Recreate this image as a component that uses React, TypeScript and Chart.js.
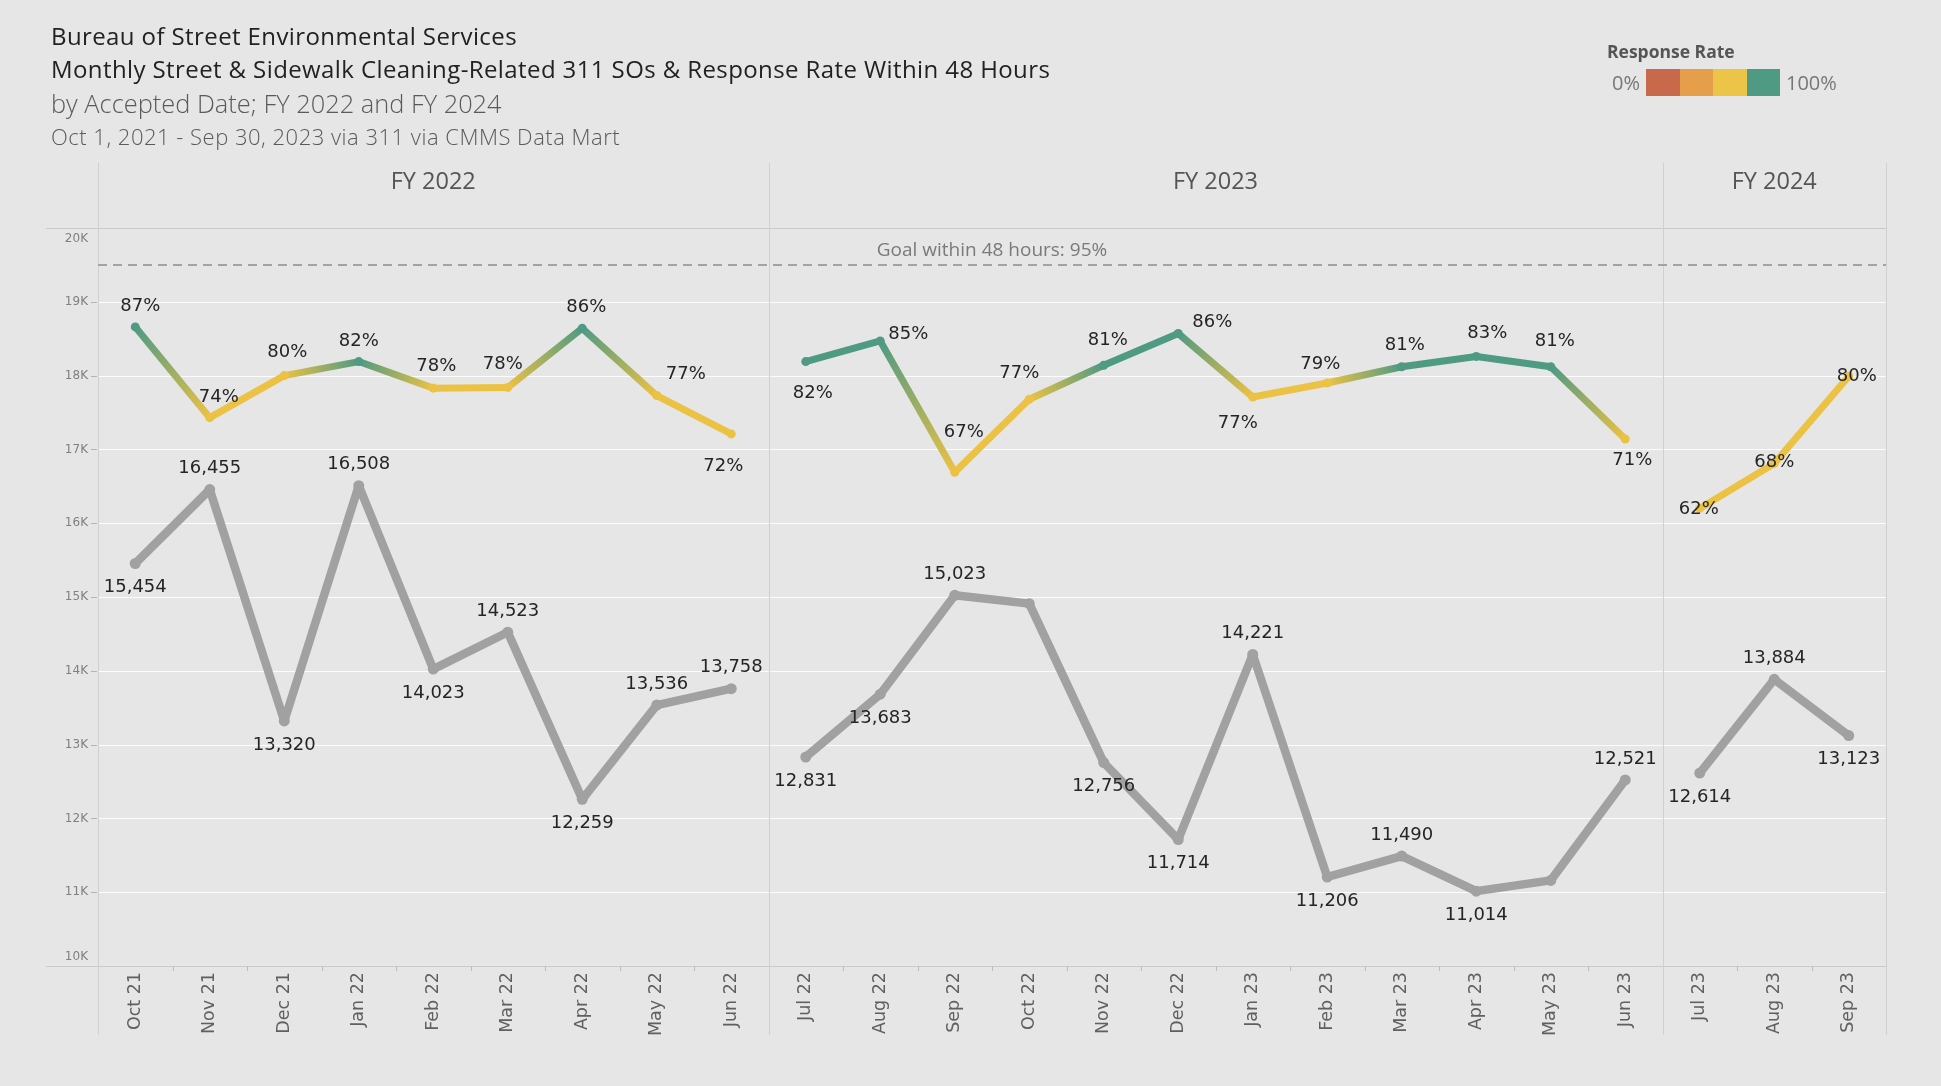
import React, { useEffect, useRef } from "react";
import { Chart, registerables } from "chart.js";

Chart.register(...registerables);

// ---------------- DATA ----------------
const MONTHS = [
  "Oct 21", "Nov 21", "Dec 21", "Jan 22", "Feb 22", "Mar 22", "Apr 22", "May 22", "Jun 22",
  "Jul 22", "Aug 22", "Sep 22", "Oct 22", "Nov 22", "Dec 22", "Jan 23", "Feb 23", "Mar 23", "Apr 23", "May 23", "Jun 23",
  "Jul 23", "Aug 23", "Sep 23",
];
const PANELS = ["FY 2022", "FY 2023", "FY 2024"];
const PANEL_SIZES = [9, 12, 3];

// Monthly Street & Sidewalk Cleaning-Related 311 SOs
const COUNTS = [
  15454, 16455, 13320, 16508, 14023, 14523, 12259, 13536, 13758,
  12831, 13683, 15023, 14910, 12756, 11714, 14221, 11206, 11490, 11014, 11160, 12521,
  12614, 13884, 13123,
];
// Which counts carry a data label
const COUNT_LABELED = [
  true, true, true, true, true, true, true, true, true,
  true, true, true, false, true, true, true, true, true, true, false, true,
  true, true, true,
];
// Response rate within 48 hours (%)
const RATES = [
  86.6, 74.3, 80.0, 81.9, 78.3, 78.4, 86.4, 77.3, 72.1,
  81.9, 84.7, 66.9, 76.8, 81.4, 85.7, 77.1, 79.0, 81.2, 82.6, 81.2, 71.4,
  62.0, 68.1, 79.9,
];
const GOAL_RATE = 95;
const Y_TICKS = [10000, 11000, 12000, 13000, 14000, 15000, 16000, 17000, 18000, 19000, 20000];

// ---------------- STYLE ----------------
const BG = "#e6e6e6";
const GRAY_LINE = "#a1a1a1";
const TEAL = "#4f9a83";
const YELLOW = "#ebc244";
const LEGEND_COLORS = ["#c9694b", "#e59f4b", "#ecc447", "#4f9a83"];
const LABEL_FONT = '18px "DejaVu Sans"';
const TITLE_FONT = '"Open Sans", sans-serif';

// label placement (style): counts above (a) or below (b)
const COUNT_POS = [
  "b", "a", "b", "a", "b", "a", "b", "a", "a",
  "b", "b", "a", "-", "b", "b", "a", "b", "a", "b", "-", "a",
  "b", "a", "b",
];
// rate label offsets (style) [dx, dy]
const RATE_OFF: [number, number][] = [
  [5, -21], [9, -20], [3, -23], [0, -20], [3, -22], [-5, -23], [4, -21], [29, -21], [-8, 32],
  [7, 32], [28, -7], [9, -40], [-10, -26], [4, -25], [34, -11], [-15, 26], [-7, -19], [3, -21], [11, -23], [4, -25], [7, 21],
  [-1, 1], [0, -1], [8, 0],
];

const rateColor = (r: number) => (r >= 80.5 ? TEAL : YELLOW);

function panelRanges() {
  const out: [number, number][] = [];
  let s = 0;
  for (const n of PANEL_SIZES) {
    out.push([s, s + n - 1]);
    s += n;
  }
  return out;
}

function maskTo(arr: number[], a: number, b: number) {
  return arr.map((v, i) => (i >= a && i <= b ? v : null));
}

export default function App() {
  const canvasRef = useRef<HTMLCanvasElement | null>(null);

  useEffect(() => {
    document.body.style.margin = "0";
    document.body.style.background = BG;
    const canvas = canvasRef.current!;
    const g = canvas.getContext("2d")!;
    const ranges = panelRanges();

    const datasets: any[] = [];
    ranges.forEach(([a, b]) => {
      datasets.push({
        data: maskTo(COUNTS, a, b),
        yAxisID: "y",
        borderColor: GRAY_LINE,
        backgroundColor: GRAY_LINE,
        borderWidth: 8.5,
        pointRadius: 5.5,
        pointBorderWidth: 0,
        pointBackgroundColor: GRAY_LINE,
        borderJoinStyle: "round",
        borderCapStyle: "round",
        tension: 0,
      });
    });
    ranges.forEach(([a, b]) => {
      datasets.push({
        data: maskTo(RATES, a, b),
        yAxisID: "y2",
        borderColor: TEAL,
        borderWidth: 7,
        pointRadius: 4.5,
        pointBorderWidth: 0,
        pointBackgroundColor: (c: any) => rateColor(RATES[c.dataIndex]),
        borderJoinStyle: "round",
        borderCapStyle: "round",
        tension: 0,
        segment: {
          borderColor: (c: any) => {
            const c0 = rateColor(RATES[c.p0DataIndex]);
            const c1 = rateColor(RATES[c.p1DataIndex]);
            if (c0 === c1) return c0;
            const gr = g.createLinearGradient(c.p0.x, c.p0.y, c.p1.x, c.p1.y);
            gr.addColorStop(0, c0);
            gr.addColorStop(1, c1);
            return gr;
          },
        },
      });
    });

    const framePlugin = {
      id: "frame",
      beforeDatasetsDraw(chart: any) {
        const ctx = chart.ctx;
        const area = chart.chartArea;
        const xs = chart.scales.x;
        const ys = chart.scales.y;
        const y2 = chart.scales.y2;
        const half = (xs.getPixelForValue(1) - xs.getPixelForValue(0)) / 2;
        ctx.save();
        // gridlines
        ctx.strokeStyle = "rgba(255,255,255,0.85)";
        ctx.lineWidth = 1.2;
        Y_TICKS.slice(1, -1).forEach((v) => {
          const y = Math.round(ys.getPixelForValue(v)) + 0.5;
          ctx.beginPath();
          ctx.moveTo(area.left, y);
          ctx.lineTo(area.right, y);
          ctx.stroke();
        });
        // top & bottom borders
        ctx.strokeStyle = "#cacaca";
        ctx.lineWidth = 1;
        [area.top, area.bottom].forEach((yy: number) => {
          const y = Math.round(yy) + 0.5;
          ctx.beginPath();
          ctx.moveTo(46, y);
          ctx.lineTo(area.right, y);
          ctx.stroke();
        });
        // panel dividers
        const bounds: number[] = [area.left];
        ranges.forEach(([, b]) => bounds.push(xs.getPixelForValue(b) + half));
        ctx.strokeStyle = "#d0d0d0";
        bounds.forEach((bx) => {
          const x = Math.round(bx) + 0.5;
          ctx.beginPath();
          ctx.moveTo(x, 163);
          ctx.lineTo(x, 1035);
          ctx.stroke();
        });
        // panel headers
        ctx.fillStyle = "#555";
        ctx.font = `23.5px ${TITLE_FONT}`;
        ctx.textAlign = "center";
        ctx.textBaseline = "middle";
        PANELS.forEach((p, i) => {
          ctx.fillText(p, (bounds[i] + bounds[i + 1]) / 2, 182);
        });
        // y axis labels and ticks
        ctx.font = '12px "DejaVu Sans"';
        ctx.fillStyle = "#808080";
        ctx.textAlign = "right";
        ctx.strokeStyle = "#b5b5b5";
        Y_TICKS.forEach((v, i) => {
          let y = ys.getPixelForValue(v);
          const lab = `${v / 1000}K`;
          if (i === 0) {
            ctx.fillText(lab, 88, y - 9);
          } else if (i === Y_TICKS.length - 1) {
            ctx.fillText(lab, 88, y + 11);
          } else {
            ctx.fillText(lab, 88, y);
            const yy = Math.round(y) + 0.5;
            ctx.beginPath();
            ctx.moveTo(91, yy);
            ctx.lineTo(97, yy);
            ctx.stroke();
          }
        });
        // x ticks
        ctx.strokeStyle = "#bdbdbd";
        for (let i = 0; i < MONTHS.length - 1; i++) {
          const bx = xs.getPixelForValue(i) + half;
          if (bounds.some((b) => Math.abs(b - bx) < 1)) continue;
          const x = Math.round(bx) + 0.5;
          ctx.beginPath();
          ctx.moveTo(x, area.bottom);
          ctx.lineTo(x, area.bottom + 5);
          ctx.stroke();
        }
        // x labels
        ctx.font = '17.5px "DejaVu Sans"';
        ctx.fillStyle = "#606060";
        ctx.textAlign = "right";
        ctx.textBaseline = "middle";
        MONTHS.forEach((m, i) => {
          const x = xs.getPixelForValue(i);
          ctx.save();
          ctx.translate(x, area.bottom + 6);
          ctx.rotate(-Math.PI / 2);
          ctx.fillText(m, 0, 0);
          ctx.restore();
        });
        // goal line
        const gy = y2.getPixelForValue(GOAL_RATE);
        ctx.strokeStyle = "#a3a3a3";
        ctx.lineWidth = 2;
        ctx.setLineDash([9, 6]);
        ctx.beginPath();
        ctx.moveTo(area.left, gy);
        ctx.lineTo(area.right, gy);
        ctx.stroke();
        ctx.setLineDash([]);
        ctx.font = `19px ${TITLE_FONT}`;
        ctx.fillStyle = "#7a7a7a";
        ctx.textAlign = "center";
        ctx.fillText(`Goal within 48 hours: ${GOAL_RATE}%`, 992, gy - 14);
        ctx.restore();
      },
      afterDatasetsDraw(chart: any) {
        const ctx = chart.ctx;
        const xs = chart.scales.x;
        const ys = chart.scales.y;
        const y2 = chart.scales.y2;
        ctx.save();
        ctx.font = LABEL_FONT;
        ctx.fillStyle = "#252525";
        ctx.textAlign = "center";
        ctx.textBaseline = "middle";
        COUNTS.forEach((v, i) => {
          if (!COUNT_LABELED[i] || COUNT_POS[i] === "-") return;
          const x = xs.getPixelForValue(i);
          const y = ys.getPixelForValue(v);
          const dy = COUNT_POS[i] === "a" ? -21 : 24;
          ctx.fillText(v.toLocaleString("en-US"), x, y + dy);
        });
        RATES.forEach((r, i) => {
          const x = xs.getPixelForValue(i);
          const y = y2.getPixelForValue(r);
          const [dx, dy] = RATE_OFF[i];
          ctx.fillText(`${Math.round(r)}%`, x + dx, y + dy);
        });
        ctx.restore();
      },
    };

    const chart = new Chart(canvas, {
      type: "line",
      data: { labels: MONTHS, datasets },
      options: {
        responsive: false,
        animation: false,
        layout: { padding: { left: 98, right: 55, top: 228, bottom: 120 } },
        plugins: { legend: { display: false }, tooltip: { enabled: false } },
        scales: {
          x: { type: "category", display: false, offset: true },
          y: { display: false, min: 10000, max: 20000 },
          y2: { display: false, min: 0, max: 100 },
        },
      },
      plugins: [framePlugin],
    } as any);
    return () => chart.destroy();
  }, []);

  const titleBase: React.CSSProperties = {
    position: "absolute",
    left: 51,
    whiteSpace: "nowrap",
    fontFamily: TITLE_FONT,
    margin: 0,
  };

  return (
    <div style={{ position: "relative", width: 1941, height: 1086, background: BG, overflow: "hidden" }}>
      <canvas ref={canvasRef} width={1941} height={1086} style={{ position: "absolute", left: 0, top: 0, display: "block" }} />
      <div style={{ ...titleBase, top: 21, fontSize: 24, letterSpacing: "0.4px", lineHeight: "30px", color: "#222" }}>
        Bureau of Street Environmental Services
      </div>
      <div style={{ ...titleBase, top: 54, fontSize: 24, letterSpacing: "0.4px", lineHeight: "30px", color: "#222" }}>
        Monthly Street &amp; Sidewalk Cleaning-Related 311 SOs &amp; Response Rate Within 48 Hours
      </div>
      <div style={{ ...titleBase, top: 86, fontSize: 25.4, lineHeight: "34px", color: "#5a5a5a", fontWeight: 300 }}>
        by Accepted Date; FY 2022 and FY 2024
      </div>
      <div style={{ ...titleBase, top: 121, fontSize: 22, letterSpacing: "0.5px", lineHeight: "30px", color: "#5a5a5a", fontWeight: 300 }}>
        Oct 1, 2021 - Sep 30, 2023 via 311 via CMMS Data Mart
      </div>
      {/* legend */}
      <div style={{ position: "absolute", left: 1607, top: 40, fontFamily: TITLE_FONT, fontSize: 17.5, fontWeight: 700, color: "#555", lineHeight: "22px", whiteSpace: "nowrap" }}>
        Response Rate
      </div>
      <div style={{ position: "absolute", left: 1580, width: 60, top: 70, textAlign: "right", fontFamily: TITLE_FONT, fontSize: 20, color: "#777", lineHeight: "26px" }}>
        0%
      </div>
      <div style={{ position: "absolute", left: 1646, top: 69, width: 134, height: 27, display: "flex" }}>
        {LEGEND_COLORS.map((c) => (
          <div key={c} style={{ flex: 1, background: c }} />
        ))}
      </div>
      <div style={{ position: "absolute", left: 1786, top: 70, fontFamily: TITLE_FONT, fontSize: 20, color: "#777", lineHeight: "26px" }}>
        100%
      </div>
    </div>
  );
}
